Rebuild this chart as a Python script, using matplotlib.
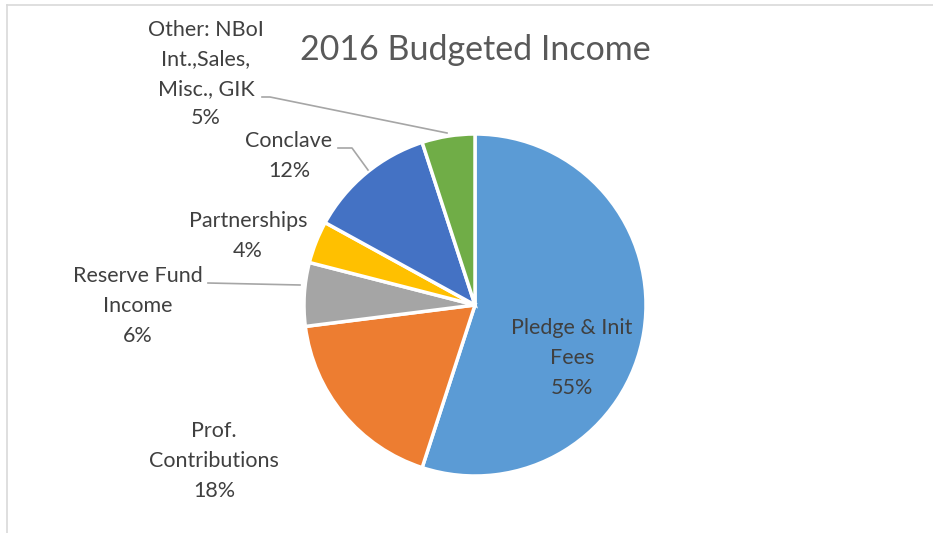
import matplotlib
matplotlib.use("Agg")
import matplotlib.pyplot as plt

categories = ["Pledge & Init\nFees", "Prof.\nContributions", "Reserve Fund\nIncome",
              "Partnerships", "Conclave", "Other: NBoI\nInt.,Sales,\nMisc., GIK"]
values = [55, 18, 6, 4, 12, 5]
pct_labels = ["55%", "18%", "6%", "4%", "12%", "5%"]
colors = ["#5B9BD5", "#ED7D31", "#A5A5A5", "#FFC000", "#4472C4", "#70AD47"]
title = "2016 Budgeted Income"

W, H = 933, 533
fig = plt.figure(figsize=(W / 100, H / 100), dpi=100)
ax = fig.add_axes([0, 0, 1, 1])

def Y(y):
    return H - y

# chart border (top and left visible)
ax.plot([7, W], [Y(5), Y(5)], color="#D9D9D9", lw=1.2)
ax.plot([7, 7], [Y(5), 0], color="#D9D9D9", lw=1.2)

ax.pie(values, colors=colors, startangle=90, counterclock=False,
       center=(475, Y(305)), radius=171, frame=True,
       wedgeprops=dict(edgecolor="white", linewidth=2.5))
ax.set_xlim(0, W)
ax.set_ylim(0, H)
ax.axis("off")

font = "Lato"
tc = "#404040"
fs = 15.5

label_pos = [(572, 358), (214, 461), (138, 306), (248, 236), (289, 156), (206, 74)]
for (x, y), cat, p in zip(label_pos, categories, pct_labels):
    ax.text(x, Y(y), cat + "\n" + p, ha="center", va="center", fontsize=fs,
            color=tc, family=font, linespacing=1.6)

lc = "#A6A6A6"
ax.plot([262, 270, 447], [Y(97), Y(97), Y(133)], color=lc, lw=1.2)
ax.plot([338, 352, 368], [Y(148), Y(148), Y(170)], color=lc, lw=1.2)
ax.plot([208, 300], [Y(283), Y(285)], color=lc, lw=1.2)

ax.text(475, Y(50), title, ha="center", va="center", fontsize=24.5,
        color="#595959", family=font)

fig.savefig("out.png", dpi=100)
